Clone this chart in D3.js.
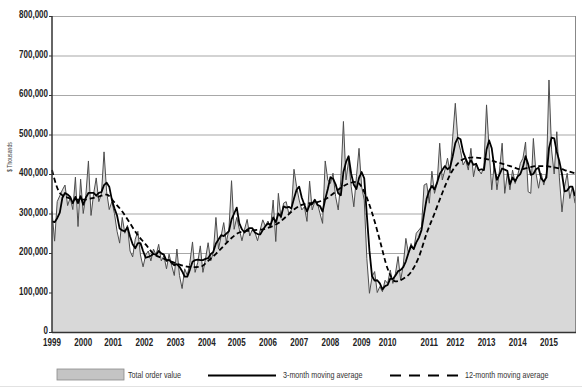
<!DOCTYPE html>
<html>
<head>
<meta charset="utf-8">
<script src="https://cdn.jsdelivr.net/npm/d3@7"></script>
<style>
  body { margin: 0; background: #fff; }
  svg { display: block; font-family: "Liberation Sans", Arial, sans-serif; }
</style>
</head>
<body>
<div id="chart"></div>
<script>
// Monthly order values, Jan 1999 - Oct 2015, in 1,000s of "$ Thousands"
const totalOrderValue = [
  305, 230, 330, 345, 360, 372, 320, 340, 310, 392, 267, 387,
  300, 345, 433, 295, 350, 390, 330, 350, 456, 355, 310, 330,
  300, 255, 225, 290, 250, 270, 205, 190, 235, 255, 195, 165,
  195, 205, 180, 210, 195, 222, 180, 193, 160, 197, 168, 143,
  210, 143, 110, 160, 143, 176, 228, 151, 176, 218, 151, 185,
  226, 180, 202, 290, 210, 243, 277, 227, 260, 383, 260, 290,
  260, 231, 260, 285, 243, 260, 252, 231, 258, 284, 268, 281,
  263, 334, 229, 351, 288, 326, 330, 300, 309, 412, 368, 334,
  309, 317, 280, 382, 309, 330, 326, 300, 275, 433, 385, 376,
  402, 343, 309, 385, 533, 385, 435, 368, 317, 393, 465, 368,
  334, 186, 98, 140, 153, 100, 115, 102, 131, 123, 157, 123,
  148, 191, 131, 170, 237, 199, 224, 208, 250, 258, 266, 372,
  376, 326, 407, 351, 376, 478, 385, 410, 440, 402, 494, 579,
  486, 460, 423, 435, 410, 465, 393, 427, 410, 400, 420, 575,
  461, 360, 427, 360, 410, 478, 351, 402, 360, 410, 376, 397,
  427, 440, 481, 355, 351, 490, 402, 364, 402, 372, 400, 638,
  461, 400, 507, 390, 304, 368, 402, 338, 368, 326
];

// 3-month moving average, one value per month
const movingAvg3 = [
  280, 278, 288, 302, 340, 352, 348, 342, 326, 342, 326, 344,
  322, 340, 352, 352, 352, 345, 352, 354, 372, 378, 368, 335,
  313, 295, 262, 257, 255, 265, 242, 222, 212, 225, 225, 205,
  188, 190, 193, 198, 195, 205, 199, 196, 180, 183, 175, 169,
  172, 165, 154, 140, 140, 158, 178, 182, 183, 182, 182, 185,
  187, 197, 203, 224, 234, 245, 243, 249, 255, 285, 300, 315,
  275, 260, 252, 259, 263, 263, 252, 248, 247, 258, 268, 275,
  271, 290, 278, 300, 292, 318, 315, 317, 313, 338, 360, 368,
  340, 322, 305, 322, 324, 335, 322, 319, 305, 336, 362, 392,
  388, 374, 351, 346, 405, 430, 445, 400, 373, 362, 390, 405,
  389, 296, 206, 141, 130, 131, 123, 108, 116, 119, 135, 134,
  143, 154, 157, 164, 179, 200, 218, 210, 227, 239, 258, 299,
  338, 358, 370, 361, 378, 400, 410, 420, 412, 417, 445, 478,
  492, 488, 456, 439, 423, 435, 423, 426, 410, 412, 410, 462,
  485, 465, 416, 385, 399, 414, 411, 408, 374, 391, 382, 394,
  400, 418, 445, 425, 398, 400, 412, 416, 389, 381, 391, 465,
  492, 490, 456, 432, 400, 356, 358, 368, 368, 344
];

// 12-month moving average, read every third month (month 0, 3, 6 ...)
const movingAvg12 = [
  410, 352, 340, 336, 335, 338, 343, 348, 328, 305, 275, 245,
  222, 198, 188, 180, 173, 167, 164, 165, 180, 198, 218, 238,
  252, 256, 258, 260, 266, 276, 292, 310, 322, 326, 329, 336,
  350, 365, 376, 380, 355, 302, 232, 160, 128, 135, 152, 190,
  250, 300, 352, 398, 427, 440, 442, 440, 436, 430, 424, 418,
  412, 416, 420, 420, 418, 414, 408, 402
];

const yTicks = [0, 100, 200, 300, 400, 500, 600, 700, 800];
const yearLabels = ['1999', '2000', '2001', '2002', '2003', '2004', '2005', '2006', '2007',
  '2008', '2009', '2010', '2011', '2012', '2013', '2014', '2015'];
// month index under each year label
const yearLabelMonths = [0, 12, 23.5, 35.5, 47.5, 59.5, 71, 83, 95, 107, 119, 129, 145, 155, 167, 179, 191];

const legendItems = ['Total order value', '3-month moving average', '12-month moving average'];

const CONFIG = {
  width: 582,
  height: 389,
  plot: { left: 52, right: 575, top: 16, bottom: 332 },
  narrow: 0.8, // horizontal squeeze to mimic a condensed face
  colors: {
    area: '#d8d8d8',
    raw: '#4d4d4d',
    avg: '#000',
    grid: '#a8a8a8',
    axis: '#333',
    text: '#222'
  }
};

const svg = d3.select('#chart')
  .append('svg')
  .attr('width', CONFIG.width)
  .attr('height', CONFIG.height);

const p = CONFIG.plot;
const sq = CONFIG.narrow;

const x = d3.scaleLinear()
  .domain([0, totalOrderValue.length - 1])
  .range([p.left, p.right]);

const y = d3.scaleLinear()
  .domain([0, 800])
  .range([p.bottom, p.top]);

// grid lines (behind the filled area)
svg.append('g')
  .selectAll('line')
  .data(yTicks.filter(d => d > 0))
  .join('line')
  .attr('x1', p.left)
  .attr('x2', p.right)
  .attr('y1', d => y(d) + 0.5)
  .attr('y2', d => y(d) + 0.5)
  .attr('stroke', CONFIG.colors.grid)
  .attr('stroke-width', 1.2);

// total order value area + line
const area = d3.area()
  .x((d, i) => x(i))
  .y0(y(0))
  .y1(d => y(d));

svg.append('path')
  .datum(totalOrderValue)
  .attr('d', area)
  .attr('fill', CONFIG.colors.area);

const line = d3.line()
  .x((d, i) => x(i))
  .y(d => y(d));

svg.append('path')
  .datum(totalOrderValue)
  .attr('d', line)
  .attr('fill', 'none')
  .attr('stroke', CONFIG.colors.raw)
  .attr('stroke-width', 1)
  .attr('stroke-linejoin', 'round');

// 12-month average, dashed
const line12 = d3.line()
  .x((d, i) => x(i * 3))
  .y(d => y(d))
  .curve(d3.curveMonotoneX);

svg.append('path')
  .datum(movingAvg12)
  .attr('d', line12)
  .attr('fill', 'none')
  .attr('stroke', CONFIG.colors.avg)
  .attr('stroke-width', 1.8)
  .attr('stroke-dasharray', '5,3');

// 3-month average, solid
svg.append('path')
  .datum(movingAvg3)
  .attr('d', line)
  .attr('fill', 'none')
  .attr('stroke', CONFIG.colors.avg)
  .attr('stroke-width', 1.8)
  .attr('stroke-linejoin', 'round');

// frame
svg.append('line')
  .attr('x1', p.right + 0.5).attr('x2', p.right + 0.5)
  .attr('y1', p.top).attr('y2', p.bottom)
  .attr('stroke', '#888').attr('stroke-width', 1);

svg.append('line')
  .attr('x1', p.left).attr('x2', p.left)
  .attr('y1', p.top).attr('y2', p.bottom + 1)
  .attr('stroke', CONFIG.colors.axis).attr('stroke-width', 1.5);

svg.append('line')
  .attr('x1', p.left).attr('x2', p.right + 1)
  .attr('y1', p.bottom + 0.5).attr('y2', p.bottom + 0.5)
  .attr('stroke', CONFIG.colors.axis).attr('stroke-width', 1.5);

// y axis labels
const fmt = d3.format(',');
const yAxis = svg.append('g');
yAxis.selectAll('line')
  .data(yTicks)
  .join('line')
  .attr('x1', p.left - 3)
  .attr('x2', p.left)
  .attr('y1', d => y(d) + 0.5)
  .attr('y2', d => y(d) + 0.5)
  .attr('stroke', CONFIG.colors.axis);

yAxis.selectAll('text')
  .data(yTicks)
  .join('text')
  .attr('transform', d => `translate(${p.left - 4}, ${y(d) - 1}) scale(${sq}, 1)`)
  .attr('dy', '0.3em')
  .attr('text-anchor', 'end')
  .style('font-size', '10px')
  .style('font-weight', 'bold')
  .style('fill', CONFIG.colors.text)
  .text(d => fmt(d * 1000));

svg.append('text')
  .attr('transform', `translate(12, 157) rotate(-90) scale(${sq}, 1)`)
  .attr('text-anchor', 'middle')
  .style('font-size', '6.5px')
  .style('fill', '#444')
  .text('$ Thousands');

// x axis labels
svg.append('g')
  .selectAll('text')
  .data(yearLabels)
  .join('text')
  .attr('transform', (d, i) => `translate(${x(yearLabelMonths[i])}, ${p.bottom + 14}) scale(${sq}, 1)`)
  .attr('text-anchor', 'middle')
  .style('font-size', '10px')
  .style('font-weight', 'bold')
  .style('fill', CONFIG.colors.text)
  .text(d => d);

// legend
const legend = svg.append('g').attr('transform', 'translate(0, 375)');

legend.append('rect')
  .attr('x', 57).attr('y', -6)
  .attr('width', 67).attr('height', 11)
  .attr('fill', '#c4c4c4')
  .attr('stroke', '#8a8a8a')
  .attr('stroke-width', 0.8);

legend.append('line')
  .attr('x1', 208).attr('x2', 276)
  .attr('y1', 0.5).attr('y2', 0.5)
  .attr('stroke', '#000').attr('stroke-width', 2);

legend.append('line')
  .attr('x1', 390).attr('x2', 458)
  .attr('y1', 0.5).attr('y2', 0.5)
  .attr('stroke', '#000').attr('stroke-width', 2)
  .attr('stroke-dasharray', '11,8');

legend.selectAll('text')
  .data(legendItems)
  .join('text')
  .attr('transform', (d, i) => `translate(${[128, 283, 465][i]}, 0) scale(${sq}, 1)`)
  .attr('dy', '0.35em')
  .style('font-size', '9px')
  .style('fill', '#333')
  .text(d => d);

// light rule below legend
svg.append('line')
  .attr('x1', 0).attr('x2', CONFIG.width)
  .attr('y1', 386.5).attr('y2', 386.5)
  .attr('stroke', '#e2e2e2');
</script>
</body>
</html>
